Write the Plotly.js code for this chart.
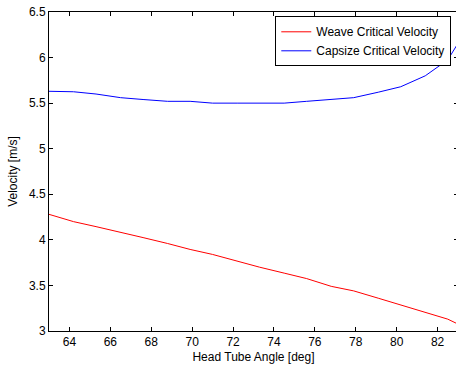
<!DOCTYPE html>
<html>
<head>
<meta charset="utf-8">
<script src="https://cdn.plot.ly/plotly-3.0.1.min.js"></script>
<style>
html, body { margin:0; padding:0; overflow:hidden; background:#fff; }
#chart { width:458px; height:366px; }
</style>
</head>
<body>
<div id="chart"></div>
<script>
// Head tube angle samples [deg]
var headTubeAngle = [63.0, 64.2, 65.3, 66.5, 67.6, 68.8, 69.9, 71.0, 72.2, 73.3, 74.5, 75.6, 76.8, 77.9, 79.1, 80.2, 81.4, 82.5, 83.7];
// Weave critical velocity [m/s]
var weaveVelocity = [4.28, 4.20, 4.145, 4.085, 4.025, 3.96, 3.895, 3.84, 3.765, 3.70, 3.635, 3.575, 3.49, 3.44, 3.36, 3.285, 3.205, 3.13, 3.00];
// Capsize critical velocity [m/s]
var capsizeVelocity = [5.63, 5.625, 5.60, 5.56, 5.54, 5.52, 5.52, 5.50, 5.50, 5.50, 5.50, 5.52, 5.545, 5.56, 5.62, 5.68, 5.80, 5.975, 6.41];

var xTickVals = [64, 66, 68, 70, 72, 74, 76, 78, 80, 82];
var xTickText = ["64", "66", "68", "70", "72", "74", "76", "78", "80", "82"];
var yTickVals = [3, 3.5, 4, 4.5, 5, 5.5, 6, 6.5];
var yTickText = ["3", "3.5", "4", "4.5", "5", "5.5", "6", "6.5"];

var font = {family: 'Arial, "Liberation Sans", Helvetica, sans-serif', size: 12, color: '#000'};

var traces = [
  {x: headTubeAngle, y: weaveVelocity, type: 'scatter', mode: 'lines',
   name: 'Weave Critical Velocity', line: {color: 'rgb(255,0,0)', width: 1}},
  {x: headTubeAngle, y: capsizeVelocity, type: 'scatter', mode: 'lines',
   name: 'Capsize Critical Velocity', line: {color: 'rgb(0,0,255)', width: 1}}
];

var axisCommon = {
  showline: true, linecolor: '#000', linewidth: 1, mirror: 'ticks',
  ticks: 'inside', ticklen: 4, tickcolor: '#000', tickwidth: 1,
  showgrid: false, zeroline: false, tickfont: font, automargin: false
};

var layout = {
  width: 458, height: 366,
  margin: {l: 49, r: 0, t: 12, b: 35, pad: 0},
  paper_bgcolor: '#fff', plot_bgcolor: '#fff',
  font: font,
  showlegend: true,
  legend: {
    x: 0.9836, xanchor: 'right', y: 0.9865, yanchor: 'top',
    bgcolor: '#fff', bordercolor: '#000', borderwidth: 1,
    font: font, itemwidth: 30, tracegroupgap: 0
  },
  xaxis: Object.assign({}, axisCommon, {
    range: [63, 83], tickmode: 'array', tickvals: xTickVals, ticktext: xTickText,
    title: {text: 'Head Tube Angle [deg]', font: font, standoff: 4}
  }),
  yaxis: Object.assign({}, axisCommon, {
    range: [3, 6.5], tickmode: 'array', tickvals: yTickVals, ticktext: yTickText,
    title: {text: 'Velocity [m/s]', font: font, standoff: 8}
  })
};

Plotly.newPlot('chart', traces, layout, {displayModeBar: false, staticPlot: true});
</script>
</body>
</html>
